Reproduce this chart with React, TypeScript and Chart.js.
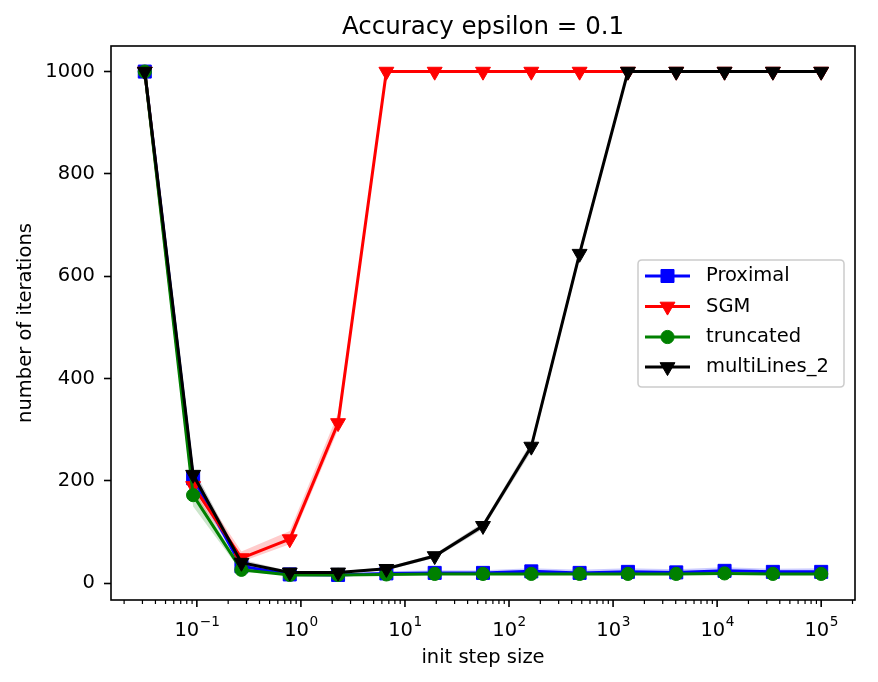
import React, { useEffect, useRef } from 'react';
import { Chart, registerables } from 'chart.js';

Chart.register(...registerables);

// Initial step sizes (log-spaced grid from 10^-1.5 to 10^5)
const stepSizes = [0.0316, 0.0921, 0.2683, 0.7813, 2.276, 6.629, 19.31, 56.23, 163.8, 477.0, 1389.5, 4047, 11788, 34333, 100000];

// Mean number of iterations per method
const proximal = [1000, 205, 33, 17, 16, 19, 20, 20, 23, 20, 22, 21, 24, 22, 22];
const sgm = [1000, 190, 49, 86, 313, 1000, 1000, 1000, 1000, 1000, 1000, 1000, 1000, 1000, 1000];
const truncated = [1000, 172, 26, 16, 16, 17, 18, 18, 18, 18, 18, 18, 19, 18, 18];
const multiLines2 = [1000, 212, 40, 21, 21, 28, 53, 112, 267, 644, 1000, 1000, 1000, 1000, 1000];

// Spread bands (lower / upper) around each method
const proximalLow = [1000, 190, 29, 15, 14, 17, 18, 18, 20, 18, 19, 19, 21, 20, 20];
const proximalHigh = [1000, 220, 38, 20, 19, 23, 25, 25, 29, 26, 29, 27, 31, 28, 29];
const sgmLow = [1000, 175, 42, 76, 300, 1000, 1000, 1000, 1000, 1000, 1000, 1000, 1000, 1000, 1000];
const sgmHigh = [1000, 205, 62, 102, 332, 1000, 1000, 1000, 1000, 1000, 1000, 1000, 1000, 1000, 1000];
const truncatedLow = [1000, 150, 22, 15, 15, 16, 17, 17, 17, 17, 17, 17, 18, 17, 17];
const truncatedHigh = [1000, 185, 30, 18, 18, 18, 19, 19, 19, 19, 19, 19, 20, 19, 19];
const multiLines2Low = [1000, 200, 36, 19, 19, 25, 49, 106, 258, 634, 1000, 1000, 1000, 1000, 1000];
const multiLines2High = [1000, 225, 46, 23, 23, 31, 57, 118, 276, 654, 1000, 1000, 1000, 1000, 1000];

const yTicks = [0, 200, 400, 600, 800, 1000];
const xMajorExponents = [-1, 0, 1, 2, 3, 4, 5];

const titleText = 'Accuracy epsilon = 0.1';
const xLabel = 'init step size';
const yLabel = 'number of iterations';

const FONT = '"DejaVu Sans", "Liberation Sans", sans-serif';
const TICK_SIZE = 19.5;

type Series = {
  label: string;
  values: number[];
  low: number[];
  high: number[];
  color: string;
  band: string;
  style: 'rect' | 'triangle' | 'circle';
  radius: number;
  rotation: number;
};

const series: Series[] = [
  { label: 'Proximal', values: proximal, low: proximalLow, high: proximalHigh, color: '#0000ff', band: 'rgba(0,0,255,0.2)', style: 'rect', radius: 9.2, rotation: 0 },
  { label: 'SGM', values: sgm, low: sgmLow, high: sgmHigh, color: '#ff0000', band: 'rgba(255,0,0,0.2)', style: 'triangle', radius: 8.6, rotation: 180 },
  { label: 'truncated', values: truncated, low: truncatedLow, high: truncatedHigh, color: '#008000', band: 'rgba(0,128,0,0.2)', style: 'circle', radius: 6.6, rotation: 0 },
  { label: 'multiLines_2', values: multiLines2, low: multiLines2Low, high: multiLines2High, color: '#000000', band: 'rgba(0,0,0,0.2)', style: 'triangle', radius: 8.6, rotation: 180 },
];

const toPoints = (vals: number[]) => vals.map((y, i) => ({ x: stepSizes[i], y }));

function drawMarker(ctx: CanvasRenderingContext2D, s: Series, x: number, y: number) {
  const r = s.radius;
  ctx.save();
  ctx.fillStyle = s.color;
  ctx.strokeStyle = s.color;
  ctx.lineWidth = 1;
  ctx.beginPath();
  if (s.style === 'rect') {
    const h = Math.SQRT1_2 * r;
    ctx.rect(x - h, y - h, 2 * h, 2 * h);
  } else if (s.style === 'circle') {
    ctx.arc(x, y, r, 0, Math.PI * 2);
  } else {
    let rad = (s.rotation * Math.PI) / 180;
    ctx.moveTo(x + Math.sin(rad) * r, y - Math.cos(rad) * r);
    rad += (2 * Math.PI) / 3;
    ctx.lineTo(x + Math.sin(rad) * r, y - Math.cos(rad) * r);
    rad += (2 * Math.PI) / 3;
    ctx.lineTo(x + Math.sin(rad) * r, y - Math.cos(rad) * r);
    ctx.closePath();
  }
  ctx.fill();
  ctx.stroke();
  ctx.restore();
}

const decorations = {
  id: 'decorations',
  afterDraw(chart: any) {
    const ctx: CanvasRenderingContext2D = chart.ctx;
    const area = chart.chartArea;
    const xs = chart.scales.x;

    ctx.save();

    // Title
    ctx.fillStyle = '#000';
    ctx.font = `24.5px ${FONT}`;
    ctx.textAlign = 'center';
    ctx.textBaseline = 'alphabetic';
    ctx.fillText(titleText, (area.left + area.right) / 2, 34);

    // Axes frame
    ctx.strokeStyle = '#000';
    ctx.lineWidth = 1.6;
    ctx.strokeRect(area.left, area.top, area.right - area.left, area.bottom - area.top);

    // X ticks: majors at decades, minors at 2..9 within each decade
    const minV = xs.min;
    const maxV = xs.max;
    for (let e = -3; e <= 6; e++) {
      for (let k = 1; k <= 9; k++) {
        const v = k * Math.pow(10, e);
        if (v < minV || v > maxV) continue;
        const px = xs.getPixelForValue(v);
        const major = k === 1;
        ctx.lineWidth = major ? 1.6 : 1.2;
        ctx.beginPath();
        ctx.moveTo(px, area.bottom);
        ctx.lineTo(px, area.bottom + (major ? 7 : 4));
        ctx.stroke();
      }
    }

    // X tick labels as 10 with superscript exponent
    for (const e of xMajorExponents) {
      const px = xs.getPixelForValue(Math.pow(10, e));
      const base = '10';
      const sup = e < 0 ? '\u2212' + Math.abs(e) : String(e);
      ctx.font = `${TICK_SIZE}px ${FONT}`;
      const w1 = ctx.measureText(base).width;
      ctx.font = `${TICK_SIZE * 0.7}px ${FONT}`;
      const w2 = ctx.measureText(sup).width;
      const start = px - (w1 + w2) / 2;
      ctx.textAlign = 'left';
      ctx.textBaseline = 'alphabetic';
      ctx.font = `${TICK_SIZE}px ${FONT}`;
      ctx.fillText(base, start, 636);
      ctx.font = `${TICK_SIZE * 0.7}px ${FONT}`;
      ctx.fillText(sup, start + w1 + 0.5, 626);
    }

    // Legend
    const lx = 638, ly = 260, lw = 206, lh = 127, rr = 4;
    ctx.beginPath();
    ctx.moveTo(lx + rr, ly);
    ctx.lineTo(lx + lw - rr, ly);
    ctx.quadraticCurveTo(lx + lw, ly, lx + lw, ly + rr);
    ctx.lineTo(lx + lw, ly + lh - rr);
    ctx.quadraticCurveTo(lx + lw, ly + lh, lx + lw - rr, ly + lh);
    ctx.lineTo(lx + rr, ly + lh);
    ctx.quadraticCurveTo(lx, ly + lh, lx, ly + lh - rr);
    ctx.lineTo(lx, ly + rr);
    ctx.quadraticCurveTo(lx, ly, lx + rr, ly);
    ctx.closePath();
    ctx.fillStyle = 'rgba(255,255,255,0.8)';
    ctx.fill();
    ctx.strokeStyle = '#cccccc';
    ctx.lineWidth = 1.5;
    ctx.stroke();

    const rows = [276, 306.5, 337, 367];
    series.forEach((s, i) => {
      const y = rows[i];
      ctx.strokeStyle = s.color;
      ctx.lineWidth = 3;
      ctx.beginPath();
      ctx.moveTo(645, y);
      ctx.lineTo(690, y);
      ctx.stroke();
      drawMarker(ctx, s, 667.5, y);
      ctx.fillStyle = '#000';
      ctx.font = `${TICK_SIZE}px ${FONT}`;
      ctx.textAlign = 'left';
      ctx.textBaseline = 'middle';
      ctx.fillText(s.label, 706, y);
    });

    ctx.restore();
  },
};

export default function App() {
  const canvasRef = useRef<HTMLCanvasElement | null>(null);

  useEffect(() => {
    const canvas = canvasRef.current;
    if (!canvas) return;

    const datasets: any[] = [];
    series.forEach((s, i) => {
      const lowIndex = datasets.length;
      datasets.push({
        label: s.label + ' low',
        data: toPoints(s.low),
        borderWidth: 0,
        borderColor: 'rgba(0,0,0,0)',
        pointRadius: 0,
        fill: false,
        order: 10,
      });
      datasets.push({
        label: s.label + ' high',
        data: toPoints(s.high),
        borderWidth: 0,
        borderColor: 'rgba(0,0,0,0)',
        backgroundColor: s.band,
        pointRadius: 0,
        fill: lowIndex,
        order: 10,
      });
      datasets.push({
        label: s.label,
        data: toPoints(s.values),
        borderColor: s.color,
        backgroundColor: s.color,
        borderWidth: 3,
        pointStyle: s.style,
        pointRadius: s.radius,
        pointRotation: s.rotation,
        pointBorderWidth: 1,
        pointBorderColor: s.color,
        pointBackgroundColor: s.color,
        fill: false,
        tension: 0,
        order: 4 - i,
      });
    });

    const chart = new Chart(canvas, {
      type: 'line',
      data: { datasets },
      options: {
        animation: false,
        responsive: false,
        maintainAspectRatio: false,
        layout: { padding: { top: 46, right: 23, left: 0, bottom: 0 } },
        plugins: {
          legend: { display: false },
          tooltip: { enabled: false },
          title: { display: false },
        },
        scales: {
          x: {
            type: 'logarithmic',
            min: Math.pow(10, -1.825),
            max: Math.pow(10, 5.325),
            ticks: { display: false },
            grid: { display: false },
            border: { display: false },
            title: {
              display: true,
              text: xLabel,
              color: '#000',
              font: { family: FONT, size: TICK_SIZE },
              padding: { top: 0, bottom: 12 },
            },
            afterFit: (scale: any) => {
              scale.height = 82;
            },
          },
          y: {
            type: 'linear',
            min: -33,
            max: 1050,
            afterBuildTicks: (scale: any) => {
              scale.ticks = yTicks.map((v) => ({ value: v }));
            },
            ticks: {
              color: '#000',
              font: { family: FONT, size: TICK_SIZE },
              padding: 9,
              callback: (value: any) => String(value),
            },
            grid: {
              drawOnChartArea: false,
              drawTicks: true,
              tickLength: 7,
              tickWidth: 1.6,
              tickColor: '#000',
            },
            border: { display: false },
            title: {
              display: true,
              text: yLabel,
              color: '#000',
              font: { family: FONT, size: TICK_SIZE },
              padding: { top: 14, bottom: 0 },
            },
            afterFit: (scale: any) => {
              scale.width = 111;
            },
          },
        },
      } as any,
      plugins: [decorations],
    });

    return () => chart.destroy();
  }, []);

  return (
    <div style={{ position: 'fixed', left: 0, top: 0, width: 878, height: 682, background: '#fff' }}>
      <canvas ref={canvasRef} width={878} height={682} style={{ display: 'block' }} />
    </div>
  );
}
